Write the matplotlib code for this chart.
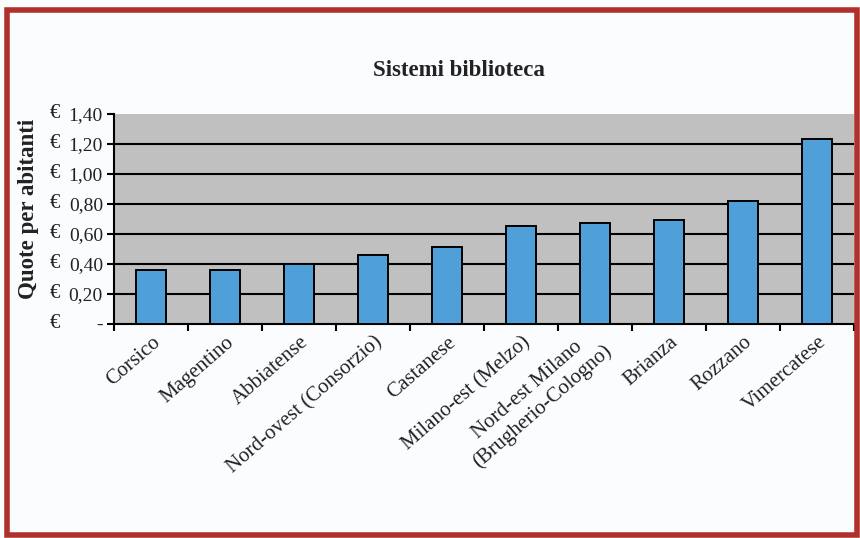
import matplotlib
matplotlib.use('Agg')
import matplotlib.pyplot as plt
import matplotlib.transforms as mtransforms
from matplotlib.patches import Rectangle

# dati
categorie = ['Corsico', 'Magentino', 'Abbiatense', 'Nord-ovest (Consorzio)', 'Castanese',
             'Milano-est (Melzo)', 'Nord-est Milano\n(Brugherio-Cologno)', 'Brianza',
             'Rozzano', 'Vimercatese']
quote = [0.36, 0.36, 0.40, 0.46, 0.51, 0.65, 0.67, 0.69, 0.82, 1.23]
y_ticks = [0, 0.2, 0.4, 0.6, 0.8, 1.0, 1.2, 1.4]

plt.rcParams['font.family'] = ['Liberation Serif', 'DejaVu Serif']

fig = plt.figure(figsize=(8.6, 5.38), dpi=100)
fig.patch.set_facecolor('#fbfcfe')

# cornice rossa
fig.patches.append(Rectangle((7 / 860, 3 / 538), 850 / 860, 525 / 538, transform=fig.transFigure,
                             fill=False, edgecolor='#b0302c', linewidth=4, zorder=0))

ax = fig.add_axes([114 / 860, 214.5 / 538, 740 / 860, 209.5 / 538])
ax.set_facecolor('#c0c0c0')

x = range(len(categorie))
ax.bar(x, quote, width=0.4, color='#4fa0d8', edgecolor='black', linewidth=1.4, zorder=3)

ax.set_xlim(-0.5, len(categorie) - 0.5)
ax.set_ylim(0, 1.4)

# griglia
for v in y_ticks[1:-1]:
    ax.axhline(v, color='black', linewidth=1.5, zorder=1)

for s in ['top', 'right']:
    ax.spines[s].set_visible(False)
ax.spines['left'].set_linewidth(1.5)
ax.spines['bottom'].set_linewidth(1.5)

# asse y in formato contabile
ax.set_yticks(y_ticks)
ax.set_yticklabels(['-' if v == 0 else f'{v:.2f}'.replace('.', ',') for v in y_ticks])
ax.tick_params(axis='y', direction='out', length=5, width=1.5, pad=3, labelsize=14, labelcolor='#222222')
for v in y_ticks:
    ax.text(-0.087, v, '€', transform=ax.get_yaxis_transform(), ha='left', va='center',
            fontsize=15, color='#222222')

# asse x
ax.set_xticks([i - 0.5 for i in range(len(categorie) + 1)], minor=True)
ax.tick_params(axis='x', which='minor', direction='out', length=5, width=1.5)
ax.set_xticks(list(x))
ax.set_xticklabels(categorie, rotation=41, ha='right', va='center', rotation_mode='anchor',
                   multialignment='center', fontsize=15, color='#222222')
ax.tick_params(axis='x', which='major', length=0, pad=12)
offset = mtransforms.ScaledTranslation(7 / 100, 0, fig.dpi_scale_trans)
for lab in ax.get_xticklabels():
    lab.set_transform(lab.get_transform() + offset)

ax.set_ylabel('Quote per abitanti', fontsize=16.5, fontweight='bold', color='#222222')
ax.yaxis.set_label_coords(-0.102, 0.545)
fig.text(459 / 860, 1 - 70 / 538, 'Sistemi biblioteca', ha='center', va='center',
         fontsize=16.5, fontweight='bold', color='#222222')

fig.savefig('out.png', dpi=100, facecolor=fig.get_facecolor())
